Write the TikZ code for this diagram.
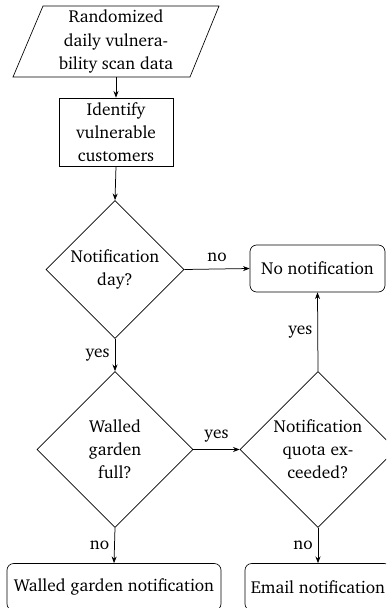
\documentclass[tikz,border=0pt]{standalone}
\usepackage[T1]{fontenc}
\usepackage{charter}
\usetikzlibrary{shapes.geometric,arrows.meta}
\begin{document}
\begin{tikzpicture}[x=0.6pt,y=-0.6pt,
  every node/.style={font=\fontsize{10.4}{13.9}\selectfont},
  txt/.style={align=center, inner sep=0pt},
  procbox/.style={draw, rectangle, align=center, inner sep=0pt, minimum width=68.4pt, minimum height=40.8pt},
  decision/.style={draw, diamond, aspect=1, align=center, inner sep=0pt},
  endbox/.style={draw, rectangle, rounded corners=4pt, align=center, inner sep=0pt, minimum height=28.2pt},
  conn/.style={-{Stealth[length=4pt,width=3pt]}, line width=0.45pt},
  lbl/.style={inner sep=0pt}
]
\useasboundingbox (0,0) rectangle (386,608);
\clip (0,0) rectangle (386,608);
% input data (parallelogram)
\node[txt, minimum width=106pt, minimum height=42.6pt] (data) at (116,41.5) {Randomized\\daily vulnera-\\bility scan data};
\draw (13,77) -- (190,77) -- (219,6) -- (43,6) -- cycle;
\node[procbox] (ident) at (116,132) {Identify\\vulnerable\\customers};
\node[decision, minimum size=82.8pt] (d1) at (115,269.5) {Notification\\day?};
\node[endbox, minimum width=81pt] (nonot) at (317.5,268.5) {No notification};
\node[decision, minimum size=93.6pt] (d2) at (115,449.5) {Walled\\garden\\full?};
\node[decision, minimum size=93.6pt] (d3) at (318,449.5) {Notification\\quota ex-\\ceeded?};
\node[endbox, minimum width=128.4pt] (wgn) at (114,587) {Walled garden notification};
\node[endbox, minimum width=87.6pt] (email) at (318,587) {Email notification};
% connectors
\draw[conn] (data.south) -- (ident.north);
\draw[conn] (ident.south) -- (d1.north);
\draw[conn] (d1.east) -- node[lbl, above=4pt] {no} (nonot.west);
\draw[conn] (d1.south) -- node[lbl, left=3pt] {yes} (d2.north);
\draw[conn] (d2.east) -- node[lbl, above=4pt] {yes} (d3.west);
\draw[conn] (d3.north) -- node[lbl, left=3pt] {yes} (nonot.south);
\draw[conn] (d2.south) -- node[lbl, left=3pt] {no} (wgn.north);
\draw[conn] (d3.south) -- node[lbl, left=3pt] {no} (email.north);
\end{tikzpicture}
\end{document}
